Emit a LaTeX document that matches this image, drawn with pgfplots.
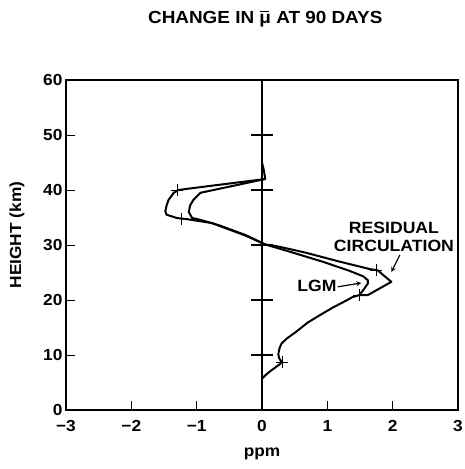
\documentclass[border=0pt]{standalone}
\usepackage{fontspec}
\setmainfont{Liberation Sans}[FakeStretch=1.08]
\usepackage{pgfplots}
\pgfplotsset{compat=1.18}

% barred mu for the title
\newcommand{\mubar}{\makebox[0pt][l]{\hspace{0.02em}\rule[0.68em]{0.5em}{0.07em}}μ}

\begin{document}
\begin{tikzpicture}
\path[use as bounding box] (-66pt,-59pt) rectangle (399pt,410pt);
\begin{axis}[
  at={(0pt,0pt)}, anchor=south west, scale only axis,
  width=392pt, height=330pt,
  xmin=-3, xmax=3, ymin=0, ymax=60,
  axis line style={line width=1.3pt},
  xtick={-3,...,3}, xticklabels={−3,−2,−1,0,1,2,3},
  ytick={0,10,...,60}, yticklabels={0,10,20,30,40,50,60},
  xtick pos=bottom, ytick pos=left, tick align=inside,
  major tick length=9pt, tick style={line width=1pt, black},
  tick label style={font=\bfseries\fontsize{16}{16}\selectfont},
  xticklabel style={yshift=-7pt},
  clip=false,
]
% zero line with its height markers
\addplot[line width=1.2pt] coordinates {(0,0) (0,60)};
\addplot[only marks, mark=-, mark size=11pt, mark options={line width=1.2pt}]
  coordinates {(0,10) (0,20) (0,30) (0,40) (0,50)};

% shared lower part of the profile
\addplot[line width=2pt, line join=round] coordinates {
  (0,5.7) (0.05,6.3) (0.12,7.0) (0.2,7.7) (0.27,8.3) (0.3,8.7)
  (0.26,9.5) (0.25,10.2) (0.27,11.3) (0.3,12.1) (0.38,13.0) (0.52,14.2)
  (0.70,15.9) (0.88,17.2) (1.08,18.6) (1.29,19.9) (1.38,20.5) (1.49,20.9)};

% LGM
\addplot[line width=2pt, line join=round] coordinates {
  (1.49,20.9) (1.55,21.8) (1.62,23.0) (1.62,23.6) (1.55,24.3) (1.34,25.3)
  (0.92,27.0) (0.42,28.8) (0.05,30.1)
  (-0.25,31.8) (-0.66,33.6) (-0.95,34.6) (-1.07,34.9) (-1.12,36.0)
  (-1.10,37.2) (-1.05,38.2) (-0.94,39.5) (0.05,42.0) (0.03,43.5) (0,45)};

% residual circulation
\addplot[line width=2pt, line join=round] coordinates {
  (1.49,20.9) (1.62,20.9) (1.98,23.3) (1.77,25.4) (1.66,25.6) (1.18,27.0)
  (0.67,28.6) (0.26,29.7) (0.05,30.1)
  (-0.25,31.7) (-0.77,34.0) (-1.15,34.7) (-1.30,34.9) (-1.46,35.5)
  (-1.48,36.1) (-1.46,37.2) (-1.43,38.2) (-1.35,39.5) (-1.28,40.0)
  (-1.09,40.3) (0.05,42.0)};

% markers on the profiles
\addplot[only marks, mark=+, mark size=6pt, mark options={line width=1pt}]
  coordinates {(0.31,8.7) (1.49,20.9) (1.75,25.4) (-1.23,34.8) (-1.30,40.0)};

% annotations
\node[font=\bfseries\fontsize{17.5}{18}\selectfont] at (axis cs:0.05,71.1)
  {CHANGE IN \mubar{} AT 90 DAYS};
\node[rotate=90, font=\bfseries\fontsize{16}{16}\selectfont] at (axis cs:-3.75,31.8)
  {HEIGHT (km)};
\node[font=\bfseries\fontsize{16}{16}\selectfont] at (axis cs:0,-8.0) {ppm};
\node[align=center, font=\bfseries\fontsize{16.3}{18.5}\selectfont] at (axis cs:2.02,31.5)
  {RESIDUAL\\CIRCULATION};
\node[font=\bfseries\fontsize{16.3}{16.3}\selectfont] at (axis cs:0.84,22.6) {LGM};
\draw[-stealth, line width=1.2pt] (axis cs:1.16,22.4) -- (axis cs:1.52,23.1);
\draw[-stealth, line width=1.2pt] (axis cs:2.11,28.2) -- (axis cs:1.98,25.1);
\end{axis}
\end{tikzpicture}
\end{document}
